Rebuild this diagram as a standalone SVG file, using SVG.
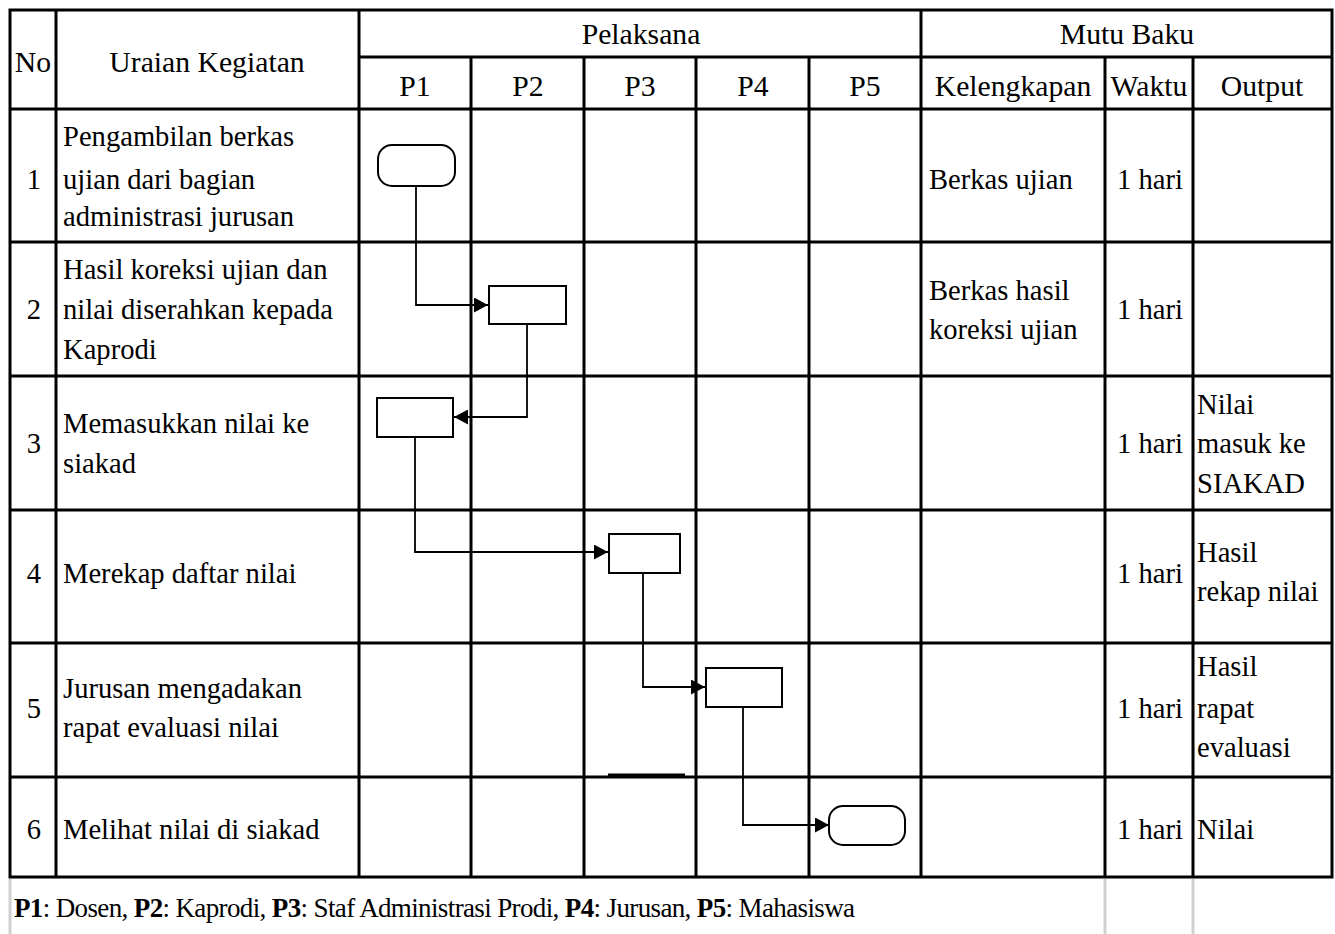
<svg xmlns="http://www.w3.org/2000/svg" width="1335" height="934" viewBox="0 0 1335 934" font-family="'Liberation Serif', 'DejaVu Serif', serif">
<style>
text{font-family:'Liberation Serif','DejaVu Serif',serif;font-size:28.6px;fill:#000}
.h{font-size:29.7px}
.c{text-anchor:middle}
.f{font-size:27px}
.grid{stroke:#000;stroke-width:3;fill:none}
.gray{stroke:#d0d0d0;stroke-width:3}
.shape{fill:#fff;stroke:#000;stroke-width:2}
.conn{fill:none;stroke:#000;stroke-width:1.8}
</style>
<defs>
<marker id="arr" markerWidth="15" markerHeight="15" refX="14" refY="7.5" orient="auto" markerUnits="userSpaceOnUse">
<path d="M0,0 L14,7.5 L0,15 Z" fill="#000"/>
</marker>
</defs>
<rect width="1335" height="934" fill="#fff"/>
<g id="grid" class="grid">
<rect x="10" y="10" width="1322" height="867"/>
<line x1="359" y1="57" x2="1332" y2="57"/>
<line x1="10" y1="109" x2="1332" y2="109"/>
<line x1="10" y1="242" x2="1332" y2="242"/>
<line x1="10" y1="376" x2="1332" y2="376"/>
<line x1="10" y1="510" x2="1332" y2="510"/>
<line x1="10" y1="643" x2="1332" y2="643"/>
<line x1="10" y1="777" x2="1332" y2="777"/>
<line x1="56" y1="10" x2="56" y2="877"/>
<line x1="359" y1="10" x2="359" y2="877"/>
<line x1="921" y1="10" x2="921" y2="877"/>
<line x1="471" y1="57" x2="471" y2="877"/>
<line x1="584" y1="57" x2="584" y2="877"/>
<line x1="696" y1="57" x2="696" y2="877"/>
<line x1="809" y1="57" x2="809" y2="877"/>
<line x1="1105" y1="57" x2="1105" y2="877"/>
<line x1="1193" y1="57" x2="1193" y2="877"/>
<line x1="608" y1="775" x2="685" y2="775"/>
</g>
<g id="footer-lines" class="gray">
<line x1="10" y1="879" x2="10" y2="934"/>
<line x1="1105" y1="879" x2="1105" y2="934"/>
<line x1="1193" y1="879" x2="1193" y2="934"/>
</g>
<g id="header">
<text class="c h" x="33" y="72">No</text>
<text class="c h" x="207" y="72">Uraian Kegiatan</text>
<text class="c h" x="641" y="44">Pelaksana</text>
<text class="c h" x="1127" y="44">Mutu Baku</text>
<text class="c h" x="415" y="96">P1</text>
<text class="c h" x="528" y="96">P2</text>
<text class="c h" x="640" y="96">P3</text>
<text class="c h" x="753" y="96">P4</text>
<text class="c h" x="865" y="96">P5</text>
<text class="c h" x="1013" y="96">Kelengkapan</text>
<text class="c h" x="1149" y="96">Waktu</text>
<text class="c h" x="1262" y="96">Output</text>
</g>
<g id="row1">
<text class="c" x="34" y="189">1</text>
<text x="63" y="146">Pengambilan berkas</text>
<text x="63" y="189">ujian dari bagian</text>
<text x="63" y="226">administrasi jurusan</text>
<text x="929" y="189">Berkas ujian</text>
<text class="c" x="1150" y="189">1 hari</text>
</g>
<g id="row2">
<text class="c" x="34" y="319">2</text>
<text x="63" y="279">Hasil koreksi ujian dan</text>
<text x="63" y="319">nilai diserahkan kepada</text>
<text x="63" y="359">Kaprodi</text>
<text x="929" y="300">Berkas hasil</text>
<text x="929" y="339">koreksi ujian</text>
<text class="c" x="1150" y="319">1 hari</text>
</g>
<g id="row3">
<text class="c" x="34" y="453">3</text>
<text x="63" y="433">Memasukkan nilai ke</text>
<text x="63" y="473">siakad</text>
<text class="c" x="1150" y="453">1 hari</text>
<text x="1197" y="414">Nilai</text>
<text x="1197" y="453">masuk ke</text>
<text x="1197" y="493">SIAKAD</text>
</g>
<g id="row4">
<text class="c" x="34" y="583">4</text>
<text x="63" y="583">Merekap daftar nilai</text>
<text class="c" x="1150" y="583">1 hari</text>
<text x="1197" y="562">Hasil</text>
<text x="1197" y="601">rekap nilai</text>
</g>
<g id="row5">
<text class="c" x="34" y="718">5</text>
<text x="63" y="698">Jurusan mengadakan</text>
<text x="63" y="737">rapat evaluasi nilai</text>
<text class="c" x="1150" y="718">1 hari</text>
<text x="1197" y="676">Hasil</text>
<text x="1197" y="718">rapat</text>
<text x="1197" y="757">evaluasi</text>
</g>
<g id="row6">
<text class="c" x="34" y="839">6</text>
<text x="63" y="839">Melihat nilai di siakad</text>
<text class="c" x="1150" y="839">1 hari</text>
<text x="1197" y="839">Nilai</text>
</g>
<g id="legend">
<text class="f" x="14" y="917" textLength="841" lengthAdjust="spacing"><tspan font-weight="bold">P1</tspan>: Dosen, <tspan font-weight="bold">P2</tspan>: Kaprodi, <tspan font-weight="bold">P3</tspan>: Staf Administrasi Prodi, <tspan font-weight="bold">P4</tspan>: Jurusan, <tspan font-weight="bold">P5</tspan>: Mahasiswa</text>
</g>
<g id="connectors" class="conn">
<path d="M416,186 V305 H488" marker-end="url(#arr)"/>
<path d="M527,324 V417 H454" marker-end="url(#arr)"/>
<path d="M415,437 V552 H608" marker-end="url(#arr)"/>
<path d="M643,573 V687 H705" marker-end="url(#arr)"/>
<path d="M743,707 V825 H829" marker-end="url(#arr)"/>
</g>
<g id="node-start">
<rect class="shape" x="378" y="145" width="77" height="41" rx="14"/>
</g>
<g id="node-step2">
<rect class="shape" x="489" y="286" width="77" height="38"/>
</g>
<g id="node-step3">
<rect class="shape" x="377" y="398" width="76" height="39"/>
</g>
<g id="node-step4">
<rect class="shape" x="609" y="534" width="71" height="39"/>
</g>
<g id="node-step5">
<rect class="shape" x="706" y="668" width="76" height="39"/>
</g>
<g id="node-end">
<rect class="shape" x="829" y="806" width="76" height="39" rx="14"/>
</g>
</svg>
